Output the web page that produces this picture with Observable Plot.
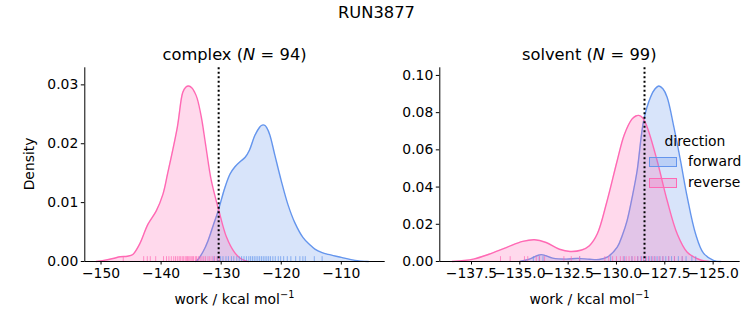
<!DOCTYPE html>
<html><head><meta charset="utf-8">
<script src="https://cdn.jsdelivr.net/npm/d3@7"></script>
<script src="https://cdn.jsdelivr.net/npm/@observablehq/plot@0.6"></script>
<style>
body{margin:0;background:#fff;font-family:"DejaVu Sans",sans-serif;}
#wrap{position:relative;width:753px;height:325px;overflow:hidden;background:#fff;}
.abs{position:absolute;white-space:nowrap;line-height:1;color:#000;font-family:"DejaVu Sans",sans-serif;}
#wrap svg{position:absolute;top:0;}
.patch{position:absolute;box-sizing:border-box;width:28px;height:10px;}
</style></head><body><div id="wrap"></div>
<script>
// ---- data ----
const title = "RUN3877";
const directions = ["forward", "reverse"];

// complex: KDE curves
const complexForwardX = [-134.3, -133.9, -133.0, -132.2, -131.3, -130.5, -129.4, -128.5, -127.7, -126.8, -126.0, -125.3, -124.4, -123.6, -123.3, -123.0, -122.7, -122.4, -121.9, -121.1, -120.0, -118.9, -117.75, -116.4, -115.3, -114.4, -113.2, -112.2, -110.0, -107.75, -105.5];
const complexForwardY = [0, 0.0003, 0.0017, 0.0035, 0.0062, 0.0086, 0.0125, 0.0149, 0.0161, 0.0170, 0.0177, 0.0189, 0.0214, 0.0228, 0.0231, 0.0232, 0.0231, 0.0227, 0.0215, 0.0182, 0.0137, 0.0097, 0.0066, 0.0041, 0.0029, 0.0021, 0.0015, 0.0012, 0.0007, 0.0002, 0];
const complexReverseX = [-150.8, -149.5, -148.0, -146.8, -145.6, -144.7, -143.6, -142.2, -140.8, -139.7, -138.9, -137.3, -136.4, -135.9, -135.4, -134.9, -134.4, -134.0, -133.3, -132.6, -131.75, -131.1, -130.4, -129.1, -127.75, -126.6, -125.5];
const complexReverseY = [0, 0.0002, 0.0005, 0.0008, 0.0009, 0.0012, 0.0029, 0.0063, 0.0086, 0.0114, 0.0150, 0.0228, 0.0287, 0.0296, 0.0298, 0.0295, 0.0287, 0.0277, 0.0245, 0.0199, 0.0143, 0.0114, 0.0087, 0.0041, 0.0015, 0.0004, 0];
// complex: rug (individual work values)
const complexForwardRug = [-131.2, -130.6, -130.1, -129.7, -129.2, -128.8, -128.3, -127.9, -127.4, -127.0, -126.6, -126.2, -125.8, -125.4, -125.1, -124.8, -124.5, -124.2, -123.9, -123.6, -123.3, -123.0, -122.7, -122.4, -122.1, -121.8, -121.4, -121.0, -120.5, -120.1, -119.6, -119.0, -118.4, -117.6, -116.9, -116.4, -116.0, -114.5, -113.2];
const complexReverseRug = [-146.3, -142.9, -142.3, -141.8, -140.9, -139.6, -139.1, -138.7, -138.3, -137.9, -137.6, -137.3, -137.0, -136.8, -136.5, -136.3, -136.0, -135.8, -135.6, -135.4, -135.2, -135.0, -134.8, -134.6, -134.3, -134.1, -133.8, -133.5, -133.2, -132.9, -132.6, -132.2, -131.9, -131.5, -131.1, -130.7, -130.3];
const complexEstimate = -130.42;
const complexN = 94;

// solvent: KDE curves
const solventForwardX = [-135.0, -134.5, -133.9, -133.3, -132.6, -132.0, -131.4, -130.9, -130.48, -129.96, -129.7, -129.45, -129.16, -128.93, -128.59, -128.24, -128.0, -127.81, -127.6, -127.38, -127.03, -126.69, -126.34, -125.91, -125.5, -124.96, -124.6];
const solventForwardY = [0, 0.0013, 0.0037, 0.0018, 0.0013, 0.0017, 0.0012, 0.0011, 0.0023, 0.0077, 0.014, 0.022, 0.036, 0.0489, 0.076, 0.0883, 0.0928, 0.0943, 0.0928, 0.0883, 0.0722, 0.0543, 0.0346, 0.0149, 0.0045, 0.0005, 0];
const solventReverseX = [-138.5, -137.4, -136.6, -135.7, -134.85, -134.24, -133.64, -132.95, -132.4, -131.8, -131.4, -130.99, -130.5, -129.96, -129.6, -129.2, -129.0, -128.85, -128.65, -128.41, -127.9, -127.38, -126.86, -126.34, -125.65, -125.2];
const solventReverseY = [0, 0.0013, 0.0039, 0.0075, 0.0108, 0.0117, 0.0102, 0.0066, 0.0054, 0.0062, 0.0085, 0.0149, 0.032, 0.0543, 0.068, 0.0765, 0.0782, 0.0785, 0.0773, 0.0722, 0.0543, 0.0328, 0.0149, 0.0050, 0.0008, 0];
// solvent: rug
const solventForwardRug = [-134.3, -134.0, -133.8, -131.9, -130.3, -129.6, -129.2, -128.9, -128.7, -128.5, -128.35, -128.2, -128.05, -127.9, -127.75, -127.6, -127.45, -127.3, -127.15, -127.0, -126.8, -126.6, -126.4, -126.1, -125.9];
const solventReverseRug = [-136.0, -135.5, -134.76, -134.59, -134.15, -133.98, -133.72, -132.72, -132.34, -131.91, -130.6, -130.4, -130.2, -130.0, -129.8, -129.65, -129.5, -129.35, -129.2, -129.05, -128.9, -128.75, -128.6, -128.45, -128.3, -128.15, -128.0, -127.8, -127.6, -127.3, -127.0, -126.6];
const solventEstimate = -128.55;
const solventN = 99;

// tick labels
const complexXTicks = [-150, -140, -130, -120, -110];
const complexYTicks = [0, 0.01, 0.02, 0.03];
const solventXTicks = [-137.5, -135.0, -132.5, -130.0, -127.5, -125.0];
const solventYTicks = [0, 0.02, 0.04, 0.06, 0.08, 0.10];

// ---- drawing ----
const BLUE = "#6495ED", PINK = "#FF69B4";
const FS = 13.9;
const wrap = document.getElementById("wrap");

function panel(o) {
  const fwd = o.fx.map((x, i) => ({x, y: o.fy[i]}));
  const rev = o.rx.map((x, i) => ({x, y: o.ry[i]}));
  const rugH = o.yDomain[1] * 0.025;
  const curve = "catmull-rom";
  const svg = Plot.plot({
    width: o.width, height: 325,
    marginLeft: o.ml, marginRight: o.mr, marginTop: 67.3, marginBottom: 64,
    style: {fontFamily: "DejaVu Sans", fontSize: FS + "px", color: "#000", background: "transparent", overflow: "visible"},
    x: {domain: o.xDomain, label: null},
    y: {domain: o.yDomain, label: null},
    marks: [
      Plot.areaY(fwd, {x: "x", y: "y", fill: BLUE, fillOpacity: 0.25, curve}),
      Plot.lineY(fwd, {x: "x", y: "y", stroke: BLUE, strokeWidth: 1.4, curve}),
      Plot.areaY(rev, {x: "x", y: "y", fill: PINK, fillOpacity: 0.25, curve}),
      Plot.lineY(rev, {x: "x", y: "y", stroke: PINK, strokeWidth: 1.4, curve}),
      Plot.ruleX(o.fRug, {x: d => d, y1: 0, y2: rugH, stroke: BLUE, strokeOpacity: 0.7, strokeWidth: 1}),
      Plot.ruleX(o.rRug, {x: d => d, y1: 0, y2: rugH, stroke: PINK, strokeOpacity: 0.7, strokeWidth: 1}),
      Plot.ruleX([o.line], {stroke: "#000", strokeWidth: 2, strokeDasharray: "2,2.5"}),
      Plot.axisX({ticks: o.xTicks, tickFormat: o.xFmt, tickSize: 3.5, tickPadding: 3, label: null}),
      Plot.axisY({ticks: o.yTicks, tickFormat: d3.format(".2f"), tickSize: 3.5, tickPadding: 3, label: null}),
      Plot.ruleY([o.yDomain[0]], {stroke: "#000", strokeWidth: 1}),
      Plot.ruleX([o.xDomain[0]], {stroke: "#000", strokeWidth: 1})
    ]
  });
  svg.style.left = o.left + "px";
  wrap.appendChild(svg);
}

panel({width: 390, left: 0, ml: 84.3, mr: 5.3,
  xDomain: [-152.7, -102.7], yDomain: [0, 0.0329],
  xTicks: complexXTicks, xFmt: d3.format("d"), yTicks: complexYTicks,
  fx: complexForwardX, fy: complexForwardY, rx: complexReverseX, ry: complexReverseY,
  fRug: complexForwardRug, rRug: complexReverseRug, line: complexEstimate});

panel({width: 363, left: 390, ml: 49.3, mr: 13.3,
  xDomain: [-139.14, -123.6], yDomain: [0, 0.1041],
  xTicks: solventXTicks, xFmt: d3.format(".1f"), yTicks: solventYTicks,
  fx: solventForwardX, fy: solventForwardY, rx: solventReverseX, ry: solventReverseY,
  fRug: solventForwardRug, rRug: solventReverseRug, line: solventEstimate});

function addText(html, css) {
  const d = document.createElement("div");
  d.className = "abs";
  d.innerHTML = html;
  Object.assign(d.style, css);
  wrap.appendChild(d);
  return d;
}
function centered(html, cx, top, size) {
  const d = addText(html, {top: top + "px", fontSize: size + "px"});
  d.style.left = (cx - d.offsetWidth / 2) + "px";
  return d;
}
const mathN = n => `(<i>N</i>\u2004=\u2004${n})`;
centered(title, 376.5, 4.5, 16.3);
centered(`complex ${mathN(complexN)}`, 234.5, 46.5, 16.3);
centered(`solvent ${mathN(solventN)}`, 589.5, 46.5, 16.3);
const xl = "work / kcal mol<sup style=\"font-size:9.8px;vertical-align:0;position:relative;top:-6px\">\u22121</sup>";
centered(xl, 234.5, 292.5, FS);
centered(xl, 589.5, 292.5, FS);
const dens = addText("Density", {fontSize: FS + "px"});
dens.style.left = (30 - dens.offsetWidth / 2) + "px";
dens.style.top = (164 - dens.offsetHeight / 2) + "px";
dens.style.transform = "rotate(-90deg)";

// legend
centered("direction", 695, 135, FS);
const colors = [BLUE, PINK];
directions.forEach((name, i) => {
  const top = [157.3, 178.3][i];
  const p = document.createElement("div");
  p.className = "patch";
  p.style.left = "649px"; p.style.top = top + "px";
  p.style.background = colors[i] === BLUE ? "rgba(100,149,237,0.25)" : "rgba(255,105,180,0.25)";
  p.style.border = "1px solid " + colors[i];
  wrap.appendChild(p);
  addText(name, {left: "688px", top: (top - 2) + "px", fontSize: FS + "px"});
});
</script></body></html>
